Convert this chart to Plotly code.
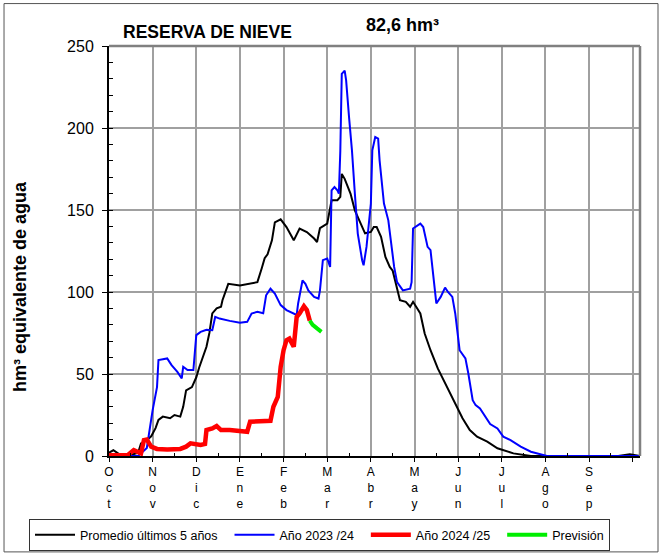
import plotly.graph_objects as go

# ---- data (day of hydrological year from 1 Oct, hm3) ----
prom_days = [0, 3, 8, 13, 20, 22, 26, 29, 32, 34, 37, 42, 45, 49, 51, 53, 57, 60, 62, 67, 69, 71, 74, 77, 78,
             82, 90, 97, 102, 105, 107, 109, 112, 114, 118, 122, 127, 131, 136, 141, 143, 145, 150, 153, 157,
             159, 160, 162, 166, 169, 173, 176, 180, 182, 184, 187, 190, 193, 195, 198, 200, 204, 207, 209,
             214, 217, 221, 226, 230, 235, 239, 243, 248, 253, 260, 267, 278, 290, 350, 358, 365]
prom_vals = [2, 3.5, 0.5, 0, 2, 7.7, 9.7, 12, 17, 22, 24, 23, 25, 24, 30, 40, 42, 48, 54, 66.6, 75, 87, 90, 91, 95,
             105, 104, 105, 106, 114.5, 120.6, 123, 131.5, 142.5, 144.3, 139.6, 131.5, 138.7, 136.6, 132.6, 130.5,
             138.9, 141.7, 155.9, 156, 158, 172, 169, 160, 149.8, 141.9, 135.8, 136.6, 139.6, 139.6, 133.6, 121.4,
             115.3, 113, 101, 95, 94, 91, 94, 86.9, 74.7, 64.5, 53.4, 46.3, 37.1, 30, 23, 15.8, 11.8, 8.7, 4.7,
             1.6, 0, 0, 1, 0]

a23_days = [0, 20, 26, 28, 30, 33, 34, 37, 40, 43, 47, 50, 51, 54, 58, 60, 63, 67, 71, 73, 76, 83, 90, 95, 98, 102,
            106, 108, 111, 114, 118, 122, 127, 129, 130, 133, 135, 137, 141, 144, 145, 147, 150, 152, 153, 155,
            157, 158, 159, 160, 162, 163, 165, 167, 169, 171, 174, 175, 177, 180, 181, 183, 185, 186, 189, 191,
            192, 194, 196, 198, 202, 207, 208, 209, 214, 216, 219, 221, 223, 225, 228, 231, 233, 236, 238, 240,
            241, 245, 247, 250, 252, 255, 258, 262, 267, 271, 276, 283, 290, 296, 301, 365]
a23_vals = [0, 0, 4.9, 17.9, 28, 42, 58.5, 59, 59.5, 55.4, 51.3, 47.3, 54.4, 52.4, 52.4, 73.7, 75.7, 77, 76.7, 84.8,
            83.8, 82.4, 81.2, 81.8, 86.9, 87.9, 87, 98, 102, 99, 92, 89, 86.9, 86, 93, 107, 105, 101, 97, 96, 101,
            119.4, 120.4, 115.3, 162, 164, 162, 160, 186, 233, 235, 229, 206.6, 186.4, 160, 135.6, 119.4, 116.3,
            127.5, 153.9, 186.4, 194.5, 193.5, 180.3, 153.9, 145.7, 143.7, 129.5, 115.3, 106, 101, 102, 106, 138.7,
            141.7, 139.6, 127.5, 125.5, 109.2, 93, 97, 102.7, 100, 97, 86.9, 70.6, 64.5, 59.5, 50.3, 34, 31, 29,
            25, 19.5, 16.8, 11.8, 9.7, 5.7, 2.6, 1.2, 0, 0]

a24_days = [0, 13, 17, 19, 22, 24, 26, 29, 33, 40, 49, 53, 56, 63, 66, 67, 71, 74, 77, 83, 90, 95, 97, 104, 111,
            113, 116, 118, 120, 122, 124, 127, 129, 131, 134, 136, 138]
a24_vals = [0.5, 0.6, 3.6, 2.6, 1.6, 9.7, 10.1, 5.7, 4.3, 4, 4.3, 5.7, 7.7, 6.7, 7.3, 15.8, 16.8, 18.3, 15.8, 15.8,
            15.2, 14.8, 20.9, 21.5, 21.5, 30, 36, 54.4, 64.5, 70.6, 71.6, 66.6, 84.8, 86.9, 91.3, 89, 82.6]

prev_days = [138, 140, 143, 146]
prev_vals = [82.6, 80, 77.8, 75.7]

month_vals = [0, 30, 60, 90, 120, 150, 180, 210, 240, 270, 300, 330, 360]
month_text = ["O<br>c<br>t", "N<br>o<br>v", "D<br>i<br>c", "E<br>n<br>e", "F<br>e<br>b", "M<br>a<br>r",
              "A<br>b<br>r", "M<br>a<br>y", "J<br>u<br>n", "J<br>u<br>l", "A<br>g<br>o", "S<br>e<br>p", ""]

FONT = "Arial, Liberation Sans, sans-serif"
PAD = "\u00a0\u00a0"

fig = go.Figure()
fig.add_trace(go.Scatter(x=prom_days, y=prom_vals, mode="lines", name="Promedio últimos 5 años" + PAD,
                         line=dict(color="black", width=2)))
fig.add_trace(go.Scatter(x=a23_days, y=a23_vals, mode="lines", name="Año 2023 /24" + PAD,
                         line=dict(color="#0000ff", width=2)))
fig.add_trace(go.Scatter(x=a24_days, y=a24_vals, mode="lines", name="Año 2024 /25" + PAD,
                         line=dict(color="#ff0000", width=4.5)))
fig.add_trace(go.Scatter(x=prev_days, y=prev_vals, mode="lines", name="Previsión",
                         line=dict(color="#00ee00", width=4)))

fig.update_layout(
    width=661, height=554,
    margin=dict(l=109, r=21, t=46, b=98, autoexpand=False),
    paper_bgcolor="white", plot_bgcolor="white",
    font=dict(family=FONT, color="black"),
    showlegend=True,
    legend=dict(orientation="h", xref="paper", yref="paper",
                x=(29 - 109) / 531, xanchor="left", y=(456 - 519) / 410, yanchor="top",
                bordercolor="#333333", borderwidth=1, font=dict(size=12.5, family=FONT),
                itemwidth=40, tracegroupgap=0),
    xaxis=dict(range=[0, 365], tickmode="array", tickvals=month_vals, ticktext=month_text,
               automargin=False,
               showgrid=True, gridcolor="#a0a0a0", gridwidth=1.5,
               showline=True, linecolor="black", linewidth=2,
               ticks="outside", ticklen=4, tickcolor="black",
               tickfont=dict(size=12, family=FONT), zeroline=False,
               minor=dict(tickmode="linear", tick0=15, dtick=30, ticks="inside", ticklen=3,
                          tickcolor="black", showgrid=False)),
    yaxis=dict(range=[0, 250], tickmode="linear", tick0=0, dtick=50,
               automargin=False,
               showgrid=True, gridcolor="#a0a0a0", gridwidth=1.5,
               showline=True, linecolor="black", linewidth=2,
               ticks="outside", ticklen=5, tickcolor="black", ticklabelstandoff=5,
               tickfont=dict(size=16, family=FONT), zeroline=False,
               minor=dict(tickmode="linear", tick0=0, dtick=10, ticks="inside", ticklen=4,
                          tickcolor="black", showgrid=False)),
)

# gray top/right border
fig.add_shape(type="line", xref="paper", yref="paper", x0=0, x1=1, y0=1, y1=1,
              line=dict(color="#808080", width=2.5))
fig.add_shape(type="line", xref="paper", yref="paper", x0=1, x1=1, y0=0, y1=1,
              line=dict(color="#808080", width=2.5))
# outer frame
fig.add_shape(type="rect", xref="paper", yref="paper", x0=-0.1977, x1=1.0339, y0=-0.2339, y1=1.1035,
              line=dict(color="#555555", width=1), layer="below")

fig.add_annotation(text="<b>RESERVA DE NIEVE</b>", xref="paper", yref="paper", x=0.1846, y=1.0353,
                   xanchor="center", yanchor="middle", showarrow=False, font=dict(size=17.5, family=FONT))
fig.add_annotation(text="<b>82,6 hm³</b>", xref="paper", yref="paper", x=0.5518, y=1.0524,
                   xanchor="center", yanchor="middle", showarrow=False, font=dict(size=18, family=FONT))
fig.add_annotation(text="<b>hm³ equivalente de agua</b>", xref="paper", yref="paper", x=-0.1676, y=0.412,
                   xanchor="center", yanchor="middle",
                   textangle=-90, showarrow=False, font=dict(size=18, family=FONT))

fig.write_html("out.html", config={"displayModeBar": False},
               post_script="document.body.style.margin='0px';document.body.style.padding='0px';")
